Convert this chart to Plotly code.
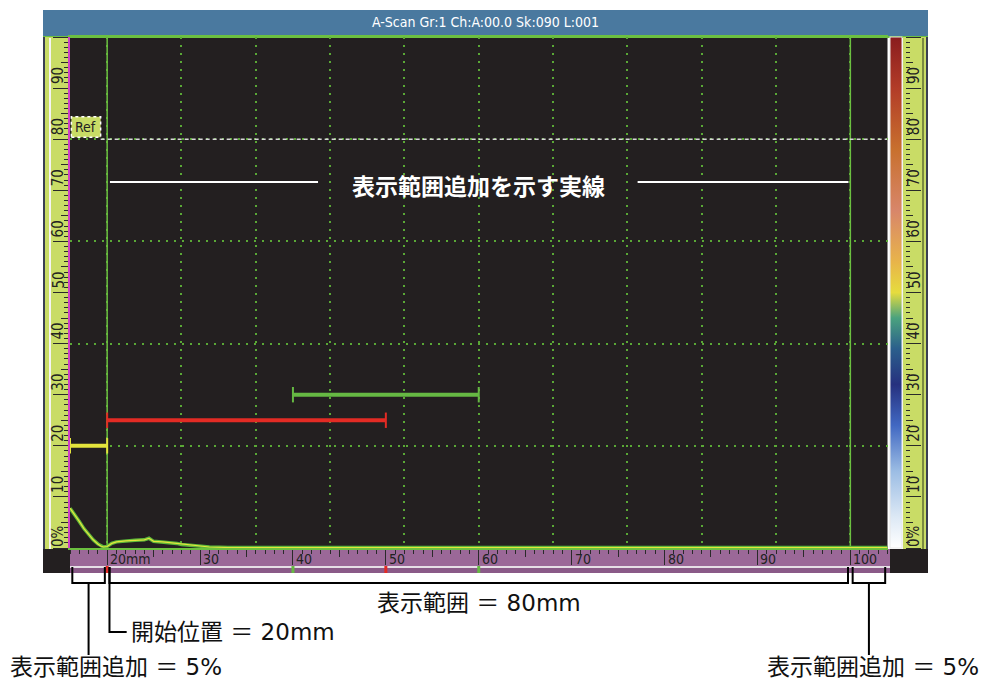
import plotly.graph_objects as go

W, H = 983, 681


def px(x):
    return x / W


def py(y):
    return 1 - y / H


x_range = [16, 104]          # mm, 5 % extra on each side of 20..100
y_range = [0, 100]           # % amplitude
start_mm = 20
end_mm = 100
grid_step_mm = 8

sig_x = [16.0, 16.5, 17.0, 17.5, 18.0, 18.5, 19.0, 19.3, 19.6, 20.0, 20.5, 21.0,
         22.0, 23.0, 24.0, 24.5, 25.0, 26.0, 27.0, 27.5, 28.0, 29.0, 30.0, 31.0,
         33.0, 40.0, 60.0, 80.0, 104.0]
sig_y = [7.8, 6.6, 5.2, 3.8, 2.6, 1.6, 0.8, 0.4, 0.2, 0.3, 0.9, 1.2,
         1.4, 1.5, 1.6, 1.9, 1.3, 1.2, 1.0, 0.9, 0.7, 0.5, 0.4, 0.2,
         0.1, 0.1, 0.1, 0.1, 0.1]

gate_start = [16, 20, 40]
gate_end = [20, 50, 60]
gate_level = [20, 25, 30]
gate_colors = ["#e4e43c", "#e32b24", "#66b843"]

ref_level = 80

amp_ticks = [0, 10, 20, 30, 40, 50, 60, 70, 80, 90]
amp_labels = ["0%", "10", "20", "30", "40", "50", "60", "70", "80", "90"]
mm_ticks = [20, 30, 40, 50, 60, 70, 80, 90, 100]
mm_labels = ["20mm", "30", "40", "50", "60", "70", "80", "90", "100"]

bar_marks = [20, 40, 50, 60]
bar_mark_colors = ["#e32b24", "#66b843", "#e32b24", "#66b843"]

spans = [[16, 20], [20, 100], [100, 104]]
note_title = "表示範囲追加を示す実線"
note_range = "表示範囲 ＝ 80mm"
note_start = "開始位置 ＝ 20mm"
note_extra = "表示範囲追加 ＝ 5%"
header = "A-Scan Gr:1 Ch:A:00.0 Sk:090 L:001"

colorscale = [[0.0, "#ffffff"], [0.06, "#dde9f5"], [0.15, "#9cbde4"],
              [0.24, "#4168c2"], [0.32, "#26317f"], [0.39, "#2b5f8c"],
              [0.45, "#4aa27e"], [0.50, "#e6dc3e"], [0.56, "#e8b44a"],
              [0.66, "#d8866a"], [0.78, "#c8702e"], [0.90, "#b23c28"],
              [1.0, "#8a1c1e"]]

BG = "#231f20"
RULER = "#c9dc66"
PURPLE = "#9b6898"
GREEN = "#6cc040"
NARROW = "Liberation Sans Narrow, DejaVu Sans Condensed, Arial Narrow, sans-serif"
JP = "DejaVu Sans, Noto Sans CJK JP, sans-serif"

fig = go.Figure()

# display range limits
fig.add_trace(go.Scatter(x=[start_mm, start_mm, None, end_mm, end_mm],
                         y=[0, 100, None, 0, 100], mode="lines",
                         line=dict(color=GREEN, width=1.5)))
# reference line
fig.add_trace(go.Scatter(x=[19.3, x_range[1]], y=[ref_level, ref_level], mode="lines",
                         line=dict(color="#d8d8d8", width=1.5, dash="4px,3px")))

# gates
for g0, g1, lv, c in zip(gate_start, gate_end, gate_level, gate_colors):
    fig.add_trace(go.Scatter(x=[g0, g1], y=[lv, lv], mode="lines+markers",
                             line=dict(color=c, width=4),
                             marker=dict(symbol="line-ns", size=11,
                                         line=dict(color=c, width=2))))

# A-scan signal
fig.add_trace(go.Scatter(x=sig_x, y=sig_y, mode="lines",
                         line=dict(color="#5db83a", width=3.5)))
fig.add_trace(go.Scatter(x=sig_x, y=sig_y, mode="lines",
                         line=dict(color="#e4e43c", width=1.2)))

# white solid lines next to the title inside the plot
fig.add_trace(go.Scatter(x=[20.3, 42.7, None, 77.1, 99.8],
                         y=[71.6, 71.6, None, 71.6, 71.6], mode="lines",
                         line=dict(color="white", width=2)))

# colour bar
fig.add_trace(go.Scatter(
    x=[None], y=[None], mode="markers",
    marker=dict(color=[0], cmin=0, cmax=100, colorscale=colorscale, showscale=True,
                colorbar=dict(x=px(890), xanchor="left", y=py(548), yanchor="bottom",
                              len=511, lenmode="pixels", thickness=12,
                              thicknessmode="pixels", outlinecolor="#e8e8e8",
                              outlinewidth=1, showticklabels=False, ticks="",
                              xpad=0, ypad=0))))

# dummy traces so the ruler axes are drawn
for xa, ya in [("x2", "y"), ("x3", "y"), ("x4", "y"), ("x", "y2"), ("x", "y3"),
               ("x", "y4"), ("x", "y5"), ("x", "y6"), ("x", "y7")]:
    fig.add_trace(go.Scatter(x=[None], y=[None], xaxis=xa, yaxis=ya,
                             hoverinfo="skip"))

xdom = [px(70), px(887.5)]
ydom = [py(548), py(37)]


def ruler(dtick, ticklen, **kw):
    d = dict(tick0=0, dtick=dtick, ticks="outside", ticklen=ticklen,
             tickcolor="#2a2a2a", tickwidth=1, showticklabels=False,
             showgrid=False, zeroline=False, showline=False, anchor="free")
    d.update(kw)
    return d


layout = dict(
    width=W, height=H, margin=dict(l=0, r=0, t=0, b=0),
    paper_bgcolor="white", plot_bgcolor=BG, showlegend=False,
    xaxis=dict(domain=xdom, range=x_range, tick0=start_mm, dtick=grid_step_mm,
               showgrid=True, gridcolor="#5aa836", gridwidth=1.5, griddash="2px,6px",
               showticklabels=False, ticks="", zeroline=False, showline=True,
               linecolor=GREEN, linewidth=2, mirror=True),
    yaxis=dict(domain=ydom, range=y_range, dtick=20, showgrid=True,
               gridcolor="#5aa836", gridwidth=1.5, griddash="2px,6px",
               showticklabels=False, ticks="", zeroline=False, showline=True,
               linecolor="#d040c8", linewidth=2),
)
for i, (dt, tl) in enumerate([(1, 4), (5, 7), (10, 15)]):
    layout["xaxis%d" % (i + 2)] = ruler(dt, tl, range=x_range, overlaying="x",
                                       side="bottom", position=py(549))
    layout["yaxis%d" % (i + 2)] = ruler(dt, tl, range=y_range, overlaying="y",
                                       side="left", position=px(68))
    layout["yaxis%d" % (i + 5)] = ruler(dt, tl, range=y_range, overlaying="y",
                                       side="right", position=px(905))
fig.update_layout(**layout)

# ---- instrument frame ----
shapes = []


def rect(x0, y0, x1, y1, fill, line=None, lw=0, layer="below"):
    shapes.append(dict(type="rect", xref="paper", yref="paper",
                       x0=px(x0), x1=px(x1), y0=py(y1), y1=py(y0),
                       fillcolor=fill, line=dict(color=line or fill, width=lw),
                       layer=layer))


rect(43, 10, 928, 36, "#4a799f")
rect(43, 36, 928, 38, GREEN)
rect(43, 37, 70, 549, RULER)
rect(49, 38, 51, 549, "#f4f4f4")
rect(43, 37, 45, 549, "#3a3f52")
rect(903, 37, 928, 549, RULER)
rect(922, 38, 924, 549, "#7a8a40")
rect(926, 37, 928, 549, "#3a3f52")
rect(70, 549, 890, 567, PURPLE)
rect(70, 566, 890, 568, "#e6dfe6")
rect(70, 568, 890, 573, "#8a5a88")
rect(43, 549, 70, 573, BG)
rect(890, 549, 928, 573, BG)

for v, c in zip(bar_marks, bar_mark_colors):
    shapes.append(dict(type="line", xref="x", yref="paper", x0=v, x1=v,
                       y0=py(573), y1=py(566), line=dict(color=c, width=3)))

# Ref box
shapes.append(dict(type="rect", xref="x", yref="y", x0=16.15, x1=19.3,
                   y0=ref_level + 0.4, y1=ref_level + 4.4, fillcolor=RULER,
                   line=dict(color="white", width=1.5, dash="dot"), layer="above"))

# brackets and leaders below the screen
yb0, yb1 = py(567), py(583)
inset = 0.25
for a, b in spans:
    shapes.append(dict(type="path", xref="x", yref="paper",
                       path="M %f,%f L %f,%f L %f,%f L %f,%f" % (
                           a + inset, yb0, a + inset, yb1, b - inset, yb1,
                           b - inset, yb0),
                       line=dict(color="black", width=2)))
for s in (spans[0], spans[2]):
    m = (s[0] + s[1]) / 2
    shapes.append(dict(type="line", xref="x", yref="paper", x0=m, x1=m,
                       y0=yb1, y1=py(655), line=dict(color="black", width=2)))
shapes.append(dict(type="path", xref="x", yref="paper",
                   path="M %f,%f L %f,%f L %f,%f" % (
                       start_mm + inset, yb0, start_mm + inset, py(632),
                       start_mm + 2.1, py(632)),
                   line=dict(color="black", width=2)))
fig.update_layout(shapes=shapes)

# ---- text ----
ann = []
ann.append(dict(x=px(485), y=py(22), xref="paper", yref="paper", text=header,
                xanchor="center", yanchor="middle", showarrow=False,
                font=dict(family=NARROW, size=14, color="white")))
ann.append(dict(x=17.7, y=ref_level + 2.4, xref="x", yref="y", text="Ref",
                showarrow=False, font=dict(family=NARROW, size=14, color="#222")))
for v, t in zip(amp_ticks, amp_labels):
    for xp in (58, 914):
        ann.append(dict(x=px(xp), y=v, xref="paper", yref="y", text=t,
                        textangle=-90, xanchor="center", yanchor="middle",
                        yshift=len(t) * 4 + 4, showarrow=False,
                        font=dict(family=NARROW, size=15, color="#222")))
for v, t in zip(mm_ticks, mm_labels):
    ann.append(dict(x=v, y=py(559), xref="x", yref="paper", text=t, xanchor="left",
                    yanchor="middle", xshift=1, showarrow=False,
                    font=dict(family=NARROW, size=14, color="#222")))
ann.append(dict(x=(start_mm + end_mm) / 2, y=71.0, xref="x", yref="y",
                text="<b>%s</b>" % note_title, showarrow=False,
                font=dict(family="Noto Sans CJK JP", size=23, color="white")))
ann.append(dict(x=(start_mm + end_mm) / 2, y=py(603), xref="x", yref="paper",
                text=note_range, xanchor="center", yanchor="middle", showarrow=False,
                font=dict(family=JP, size=23, color="#111")))
ann.append(dict(x=start_mm + 2.3, y=py(632), xref="x", yref="paper",
                text=note_start, xanchor="left", yanchor="middle", showarrow=False,
                font=dict(family=JP, size=23, color="#111")))
ann.append(dict(x=px(8), y=py(667), xref="paper", yref="paper", text=note_extra,
                xanchor="left", yanchor="middle", showarrow=False,
                font=dict(family=JP, size=23, color="#111")))
ann.append(dict(x=px(981), y=py(667), xref="paper", yref="paper", text=note_extra,
                xanchor="right", yanchor="middle", showarrow=False,
                font=dict(family=JP, size=23, color="#111")))
fig.update_layout(annotations=ann)

fig.write_html("out.html", config={"displayModeBar": False},
               post_script="document.body.style.margin='0';")
